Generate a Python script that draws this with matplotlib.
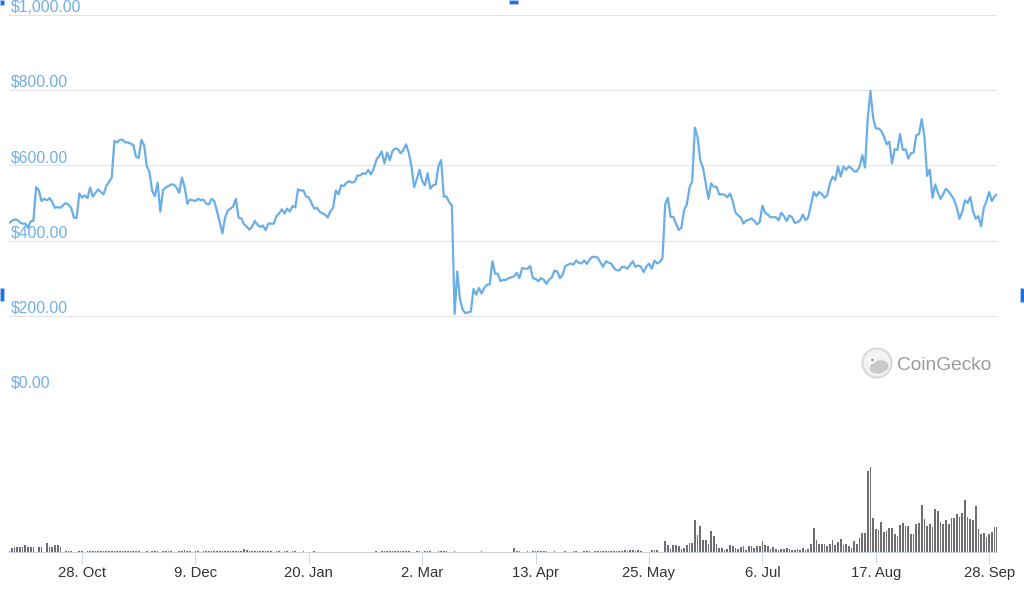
import numpy as np
import pandas as pd
import matplotlib
matplotlib.use("Agg")
import matplotlib.pyplot as plt
from matplotlib.patches import Circle, Ellipse, Rectangle
from matplotlib.transforms import blended_transform_factory

# daily closing price (USD), 1 Oct 2019 .. 1 Oct 2020
start_date = "2019-10-01"
price_usd = [
    447, 452, 456, 455, 448, 445, 445, 434, 451, 453,
    542, 534, 505, 511, 507, 513, 502, 487, 489, 487,
    494, 500, 495, 487, 461, 460, 525, 514, 520, 513,
    541, 517, 527, 536, 529, 523, 545, 556, 567, 665,
    661, 668, 668, 661, 661, 658, 654, 623, 620, 668,
    653, 598, 582, 532, 518, 554, 477, 534, 541, 545,
    549, 549, 541, 527, 567, 543, 498, 509, 507, 505,
    511, 507, 509, 498, 496, 511, 505, 478, 450, 419,
    461, 480, 485, 491, 511, 461, 459, 443, 437, 429,
    437, 452, 442, 436, 440, 428, 445, 445, 445, 465,
    472, 483, 472, 485, 477, 492, 488, 536, 533, 533,
    517, 515, 500, 485, 487, 477, 473, 469, 461, 478,
    487, 533, 523, 547, 545, 554, 558, 554, 556, 573,
    573, 579, 577, 588, 576, 590, 614, 625, 637, 605,
    634, 614, 638, 645, 643, 632, 640, 656, 634, 598,
    542, 563, 588, 558, 547, 579, 538, 547, 549, 598,
    614, 517, 517, 502, 493, 205, 318, 243, 216, 207,
    209, 211, 271, 256, 274, 259, 274, 283, 283, 345,
    312, 312, 292, 296, 295, 300, 302, 305, 314, 300,
    327, 325, 325, 332, 300, 298, 292, 300, 296, 285,
    296, 302, 320, 318, 300, 309, 332, 336, 339, 336,
    347, 341, 339, 347, 338, 349, 357, 356, 355, 342,
    330, 345, 341, 339, 327, 321, 321, 330, 330, 325,
    335, 345, 330, 334, 330, 316, 330, 339, 325, 347,
    339, 343, 354, 496, 514, 463, 463, 445, 428, 434,
    481, 496, 541, 558, 700, 674, 612, 594, 552, 511,
    552, 543, 543, 523, 523, 522, 515, 525, 505, 475,
    467, 461, 445, 453, 455, 459, 452, 443, 449, 493,
    474, 469, 462, 462, 462, 454, 474, 465, 452, 467,
    462, 447, 449, 454, 469, 454, 462, 495, 529, 518,
    529, 524, 514, 520, 552, 570, 561, 597, 570, 597,
    588, 597, 592, 584, 584, 597, 627, 594, 723, 798,
    727, 698, 698, 692, 677, 656, 663, 605, 643, 641,
    683, 641, 643, 618, 632, 634, 680, 683, 723, 677,
    572, 589, 514, 549, 527, 511, 524, 538, 530, 520,
    509, 487, 458, 476, 507, 500, 516, 478, 458, 465,
    438, 487, 505, 529, 505, 518, 523,
]

# daily traded volume (millions USD, rough)
volume_musd = [
    0.8, 3.7, 4.7, 4.7, 4.7, 4.7, 6.7, 4.7, 4.7, 4.7,
    0.5, 4.7, 5.3, 0.5, 8.7, 4.7, 4.7, 6.7, 6.7, 4.7,
    0.3, 1.0, 1.0, 0.8, 0.3, 0.3, 1.2, 1.0, 0.3, 1.0,
    1.2, 0.8, 1.3, 1.0, 1.5, 1.2, 0.8, 1.3, 1.5, 1.0,
    1.2, 1.3, 1.0, 1.5, 1.2, 1.0, 1.3, 1.5, 1.0, 0.3,
    0.3, 1.0, 0.3, 0.8, 1.2, 1.0, 0.3, 1.2, 1.3, 1.0,
    1.2, 0.3, 0.3, 0.8, 1.5, 2.0, 1.3, 1.0, 0.3, 1.2,
    1.0, 0.3, 1.3, 1.5, 1.0, 1.2, 1.5, 1.3, 1.0, 1.2,
    1.5, 1.3, 1.5, 1.2, 1.0, 1.2, 1.0, 3.5, 2.5, 1.5,
    1.2, 1.0, 1.0, 1.2, 0.8, 1.0, 0.8, 1.0, 0.3, 0.8,
    1.0, 0.3, 0.8, 1.0, 0.3, 1.0, 0.8, 0.3, 0.3, 0.8,
    0.3, 0.2, 0.2, 0.8, 0.2, 0.2, 0.2, 0.2, 0.2, 0.2,
    0.2, 0.2, 0.2, 0.2, 0.2, 0.2, 0.2, 0.2, 0.2, 0.2,
    0.2, 0.2, 0.2, 0.2, 0.2, 0.2, 0.8, 0.3, 0.8, 1.0,
    0.8, 1.0, 0.8, 1.0, 1.0, 0.8, 1.0, 1.2, 0.8, 0.3,
    0.3, 0.8, 1.0, 0.3, 0.8, 1.0, 0.8, 0.3, 0.3, 0.8,
    1.2, 1.0, 0.8, 0.3, 0.3, 1.0, 0.3, 0.3, 0.3, 0.3,
    0.3, 0.3, 0.3, 0.3, 0.3, 0.8, 0.3, 0.3, 0.3, 0.3,
    0.3, 0.3, 0.3, 0.3, 0.3, 0.3, 0.3, 3.7, 1.0, 1.0,
    0.3, 0.3, 0.8, 0.3, 0.8, 0.8, 0.8, 0.8, 0.8, 0.8,
    0.3, 0.3, 0.8, 0.3, 0.3, 0.3, 0.8, 0.3, 0.3, 0.8,
    0.8, 0.3, 0.3, 0.8, 0.8, 0.8, 0.3, 0.8, 0.8, 0.8,
    0.8, 1.0, 0.8, 1.0, 1.2, 0.8, 1.5, 1.2, 2.0, 1.5,
    2.5, 2.0, 1.5, 2.0, 1.0, 0.3, 0.3, 0.3, 1.7, 1.7,
    1.7, 0.3, 0.3, 10.7, 6.7, 2.7, 7.3, 7.3, 5.7, 3.0,
    4.3, 6.7, 9.3, 9.3, 31.7, 17.3, 26.3, 12.3, 12.3, 8.3,
    21.3, 16.0, 8.3, 4.3, 4.3, 2.3, 3.0, 7.3, 6.0, 4.3,
    3.0, 4.7, 5.7, 1.7, 5.7, 5.7, 4.3, 5.7, 6.0, 11.0,
    7.3, 6.0, 3.0, 4.7, 3.0, 2.3, 3.0, 3.0, 4.3, 3.0,
    1.7, 1.7, 3.0, 2.3, 4.3, 2.3, 3.0, 8.3, 23.7, 12.3,
    8.3, 8.3, 8.3, 5.7, 8.3, 11.7, 6.7, 10.0, 13.0, 7.0,
    8.3, 5.7, 4.3, 11.0, 8.3, 14.3, 19.0, 19.0, 80.7, 85.0,
    34.3, 23.3, 22.3, 30.0, 20.0, 21.0, 23.7, 23.7, 17.7, 16.0,
    26.7, 29.0, 26.3, 26.3, 17.7, 17.7, 27.7, 29.0, 47.3, 32.7,
    26.3, 27.7, 25.0, 43.3, 40.7, 30.0, 27.7, 31.7, 27.7, 34.3,
    34.3, 38.3, 35.0, 39.3, 52.3, 35.0, 32.7, 31.7, 45.7, 22.7,
    17.7, 19.0, 15.0, 17.7, 20.0, 25.0, 25.0,
]

tick_dates = ["2019-10-28", "2019-12-09", "2020-01-20", "2020-03-02", "2020-04-13",
              "2020-05-25", "2020-07-06", "2020-08-17", "2020-09-28"]
tick_labels = ["28. Oct", "9. Dec", "20. Jan", "2. Mar", "13. Apr",
               "25. May", "6. Jul", "17. Aug", "28. Sep"]
price_ticks = [0, 200, 400, 600, 800, 1000]
price_tick_labels = ["$0.00", "$200.00", "$400.00", "$600.00", "$800.00", "$1,000.00"]

dates = pd.date_range(start_date, periods=len(price_usd), freq="D")
tick_dt = pd.to_datetime(tick_dates)

plt.rcParams["font.family"] = ["Liberation Sans", "DejaVu Sans"]

W, H = 1024, 589
fig = plt.figure(figsize=(W / 100, H / 100), dpi=100)

plot_left, plot_right = 9.1, 997.3
price_top, price_bottom = 14.9, 391.0
vol_bottom, vol_height = 552.0, 90.0

# price panel
ax = fig.add_axes([plot_left / W, 1 - price_bottom / H,
                   (plot_right - plot_left) / W, (price_bottom - price_top) / H])
ax.plot(dates, price_usd, color="#6aaee8", lw=1.6, solid_joinstyle="round", zorder=3)
ax.set_xlim(dates[0], dates[-1])
ax.set_ylim(0, 1000)
ax.set_yticks(price_ticks)
ax.yaxis.grid(True, color="#e3e3e3", lw=0.8)
ax.set_xticks([])
ax.tick_params(left=False, labelleft=False)
for s in ax.spines.values():
    s.set_visible(False)
ax.patch.set_alpha(0)

for v, lab in zip(price_ticks, price_tick_labels):
    ax.annotate(lab, xy=(0, v), xycoords=("axes fraction", "data"),
                xytext=(1.0, 2.4), textcoords="offset points",
                ha="left", va="baseline", fontsize=11.3, color="#70afea")

# volume panel
vax = fig.add_axes([plot_left / W, 1 - vol_bottom / H,
                    (plot_right - plot_left) / W, vol_height / H])
vax.bar(dates, volume_musd, width=0.6, color="#6e6e6e", linewidth=0)
vax.set_xlim(dates[0], dates[-1])
vax.set_ylim(0, vol_height)
vax.set_yticks([])
for name, s in vax.spines.items():
    s.set_visible(name == "bottom")
vax.spines["bottom"].set_color("#ccd6eb")
vax.spines["bottom"].set_linewidth(0.75)
vax.set_xticks(tick_dt)
vax.tick_params(axis="x", length=8.6, width=0.75, color="#ccd6eb",
                direction="out", labelbottom=False)
vax.patch.set_alpha(0)

trans = blended_transform_factory(vax.transData, fig.transFigure)
for d, lab in zip(tick_dt, tick_labels):
    vax.text(d, 1 - 577 / H, lab, transform=trans, ha="center", va="baseline",
             fontsize=10.7, color="#333333", clip_on=False)

# pixel overlay: watermark and screenshot handles
pix = fig.add_axes([0, 0, 1, 1])
pix.set_xlim(0, W)
pix.set_ylim(H, 0)
pix.axis("off")
pix.patch.set_alpha(0)

pix.add_patch(Circle((877, 363), 14.5, facecolor="#f3f3f3", edgecolor="#dadada", lw=1.6))
pix.add_patch(Ellipse((879, 367), 19, 13, angle=-15, facecolor="#c9c9c9", edgecolor="none"))
pix.add_patch(Circle((872, 360), 3.6, facecolor="white", edgecolor="none"))
pix.add_patch(Circle((872.5, 360), 1.6, facecolor="#a8a8a8", edgecolor="none"))
pix.text(897, 369.5, "CoinGecko", ha="left", va="baseline", fontsize=13.8, color="#9b9b9b")

for (x0, y0, w, h) in [(0, 0, 4, 5), (509, 0, 9, 4), (0, 288, 4, 13), (1020, 288, 4, 14)]:
    pix.add_patch(Rectangle((x0, y0), w, h, facecolor="#1f6fe5", edgecolor="#a9c8f5", lw=0.6))

fig.savefig("out.png", dpi=100)
